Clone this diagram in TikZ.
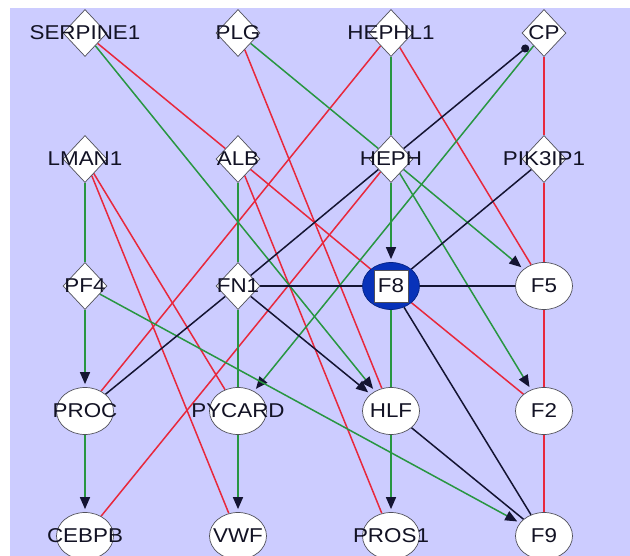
\documentclass[tikz,border=0pt]{standalone}
\usepackage{fontspec}
\setmainfont{Liberation Sans}
\usetikzlibrary{shapes.geometric,arrows.meta}
\pgfdeclarelayer{bgl}
\pgfdeclarelayer{edgel}
\pgfsetlayers{bgl,edgel,main}
\definecolor{lav}{RGB}{204,204,255}
\definecolor{eg}{RGB}{40,150,65}
\definecolor{er}{RGB}{232,40,60}
\definecolor{ek}{RGB}{20,20,50}
\definecolor{fblue}{RGB}{8,50,185}
\definecolor{txt}{RGB}{18,18,36}
\definecolor{nbord}{RGB}{80,80,90}
\newcommand{\lbl}[1]{\makebox[0pt]{\scalebox{1.12}[1]{#1}}}
\begin{document}
\begin{tikzpicture}[x=1pt,y=-1pt,
  lab/.style={font=\fontsize{20}{20}\selectfont, text=txt},
  dia/.style={diamond, draw=nbord, line width=0.7pt, fill=white, minimum width=44pt, minimum height=47pt, inner sep=0pt, lab},
  ell/.style={ellipse, draw=nbord, line width=0.7pt, fill=white, minimum width=57pt, minimum height=47pt, inner sep=0pt, lab},
  eline/.style={line width=1.5pt},
  gr/.style={eline, draw=eg},
  rd/.style={eline, draw=er},
  bk/.style={eline, draw=ek},
  arr/.style={-{Triangle[length=12pt,width=10pt,color=ek]}, shorten >=3pt},
  dot/.style={-{Circle[length=8pt,color=ek]}, shorten >=4pt},
]
\useasboundingbox (0,0) rectangle (630,556);
\begin{pgfonlayer}{bgl}
  \fill[white] (0,0) rectangle (630,556);
  \fill[lav] (10,8) rectangle (630,556);
\end{pgfonlayer}

% row 1
\node[dia] (SERPINE1) at (85,33) {\lbl{SERPINE1}};
\node[dia] (PLG) at (238,33) {\lbl{PLG}};
\node[dia] (HEPHL1) at (391,33) {\lbl{HEPHL1}};
\node[dia] (CP) at (544,33) {\lbl{CP}};
% row 2
\node[dia] (LMAN1) at (85,159) {\lbl{LMAN1}};
\node[dia] (ALB) at (238,159) {\lbl{ALB}};
\node[dia] (HEPH) at (391,159) {\lbl{HEPH}};
\node[dia] (PIK3IP1) at (544,159) {\lbl{PIK3IP1}};
% row 3
\node[dia] (PF4) at (85,286) {\lbl{PF4}};
\node[dia] (FN1) at (238,286) {\lbl{FN1}};
\node[ellipse, fill=fblue, draw=fblue!70!black, line width=0.7pt, minimum width=57pt, minimum height=47pt, inner sep=0pt] (F8) at (391,286) {};
\node[draw=nbord, line width=0.4pt, fill=white, minimum width=34pt, minimum height=32pt, inner sep=0pt, lab] (F8box) at (F8) {\lbl{F8}};
\node[ell] (F5) at (544,286) {\lbl{F5}};
% row 4
\node[ell] (PROC) at (85,411) {\lbl{PROC}};
\node[ell] (PYCARD) at (238,411) {\lbl{PYCARD}};
\node[ell] (HLF) at (391,411) {\lbl{HLF}};
\node[ell] (F2) at (544,411) {\lbl{F2}};
% row 5
\node[ell] (CEBPB) at (85,536) {\lbl{CEBPB}};
\node[ell] (VWF) at (238,536) {\lbl{VWF}};
\node[ell] (PROS1) at (391,536) {\lbl{PROS1}};
\node[ell] (F9) at (544,536) {\lbl{F9}};

\begin{pgfonlayer}{edgel}
  % red
  \draw[rd] (SERPINE1) -- (ALB);
  \draw[rd] (ALB) -- (F8);
  \draw[rd] (F8) -- (F2);
  \draw[rd] (PLG) -- (HLF);
  \draw[rd] (ALB) -- (PROS1);
  \draw[rd] (HEPHL1) -- (PROC);
  \draw[rd] (HEPHL1) -- (F5);
  \draw[rd] (HEPH) -- (CEBPB);
  \draw[rd] (LMAN1) -- (PYCARD);
  \draw[rd] (LMAN1) -- (VWF);
  \draw[rd] (CP) -- (PIK3IP1);
  \draw[rd] (PIK3IP1) -- (F5);
  \draw[rd] (F5) -- (F2);
  \draw[rd] (F2) -- (F9);
  % green
  \draw[gr,arr] (SERPINE1) -- (HLF);
  \draw[gr] (PLG) -- (HEPH);
  \draw[gr] (HEPHL1) -- (HEPH);
  \draw[gr,arr] (CP) -- (PYCARD);
  \draw[gr,arr] (HEPH) -- (F8);
  \draw[gr,arr] (HEPH) -- (F5);
  \draw[gr,arr] (HEPH) -- (F2);
  \draw[gr] (LMAN1) -- (PF4);
  \draw[gr] (ALB) -- (FN1);
  \draw[gr] (FN1) -- (PYCARD);
  \draw[gr] (F8) -- (HLF);
  \draw[gr,arr] (PF4) -- (PROC);
  \draw[gr,arr] (PROC) -- (CEBPB);
  \draw[gr,arr] (PYCARD) -- (VWF);
  \draw[gr,arr] (HLF) -- (PROS1);
  \draw[gr,arr] (PF4) -- (F9);
  % black
  \draw[bk] (PROC) -- (FN1);
  \draw[bk] (FN1) -- (HEPH);
  \draw[bk,dot] (HEPH) -- (CP);
  \draw[bk] (PIK3IP1) -- (F8);
  \draw[bk] (FN1) -- (F8);
  \draw[bk] (F8) -- (F5);
  \draw[bk,arr] (FN1) -- (HLF);
  \draw[bk] (F8) -- (F9);
  \draw[bk] (HLF) -- (F9);
\end{pgfonlayer}
\end{tikzpicture}
\end{document}
